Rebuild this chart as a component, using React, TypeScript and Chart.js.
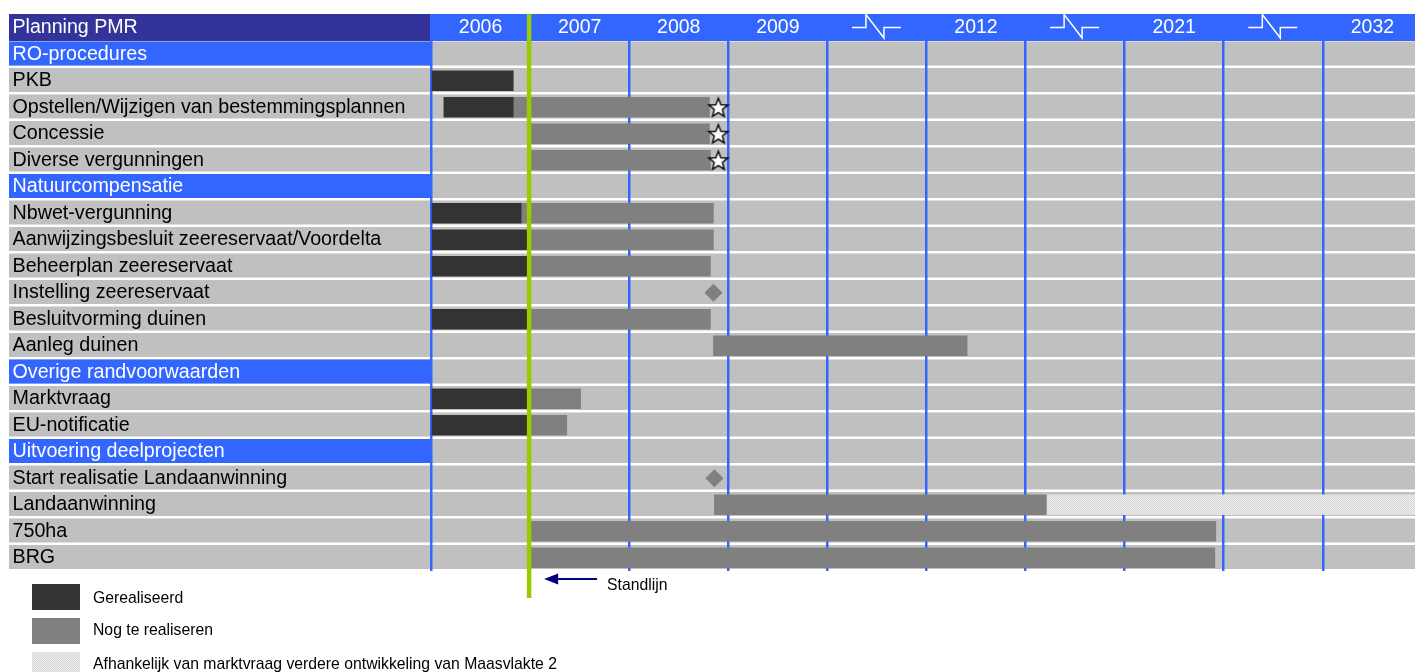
import { useEffect, useRef } from 'react';
import { Chart, registerables } from 'chart.js';

Chart.register(...registerables);

const FONT = "'Liberation Sans', Arial, Helvetica, sans-serif";

// ---------- data ----------
const headerTitle = 'Planning PMR';

const categories = [
  'RO-procedures',
  'PKB',
  'Opstellen/Wijzigen van bestemmingsplannen',
  'Concessie',
  'Diverse vergunningen',
  'Natuurcompensatie',
  'Nbwet-vergunning',
  'Aanwijzingsbesluit zeereservaat/Voordelta',
  'Beheerplan zeereservaat',
  'Instelling zeereservaat',
  'Besluitvorming duinen',
  'Aanleg duinen',
  'Overige randvoorwaarden',
  'Marktvraag',
  'EU-notificatie',
  'Uitvoering deelprojecten',
  'Start realisatie Landaanwinning',
  'Landaanwinning',
  '750ha',
  'BRG',
];

const sectionRows = [
  'RO-procedures',
  'Natuurcompensatie',
  'Overige randvoorwaarden',
  'Uitvoering deelprojecten',
];

// timeline columns (null = axis break)
const columnLabels: (string | null)[] = ['2006', '2007', '2008', '2009', null, '2012', null, '2021', null, '2032'];
const columnEdges = [0, 1, 2, 3, 4, 5, 6, 7, 8, 9];
const xMax = 9.93;
const standlijn = 0.99;

// Gerealiseerd
const realised: ([number, number] | null)[] = [
  null,
  [0.01, 0.83],
  [0.13, 0.83],
  null,
  null,
  null,
  [0.01, 0.91],
  [0.01, 0.97],
  [0.01, 0.97],
  null,
  [0.01, 0.97],
  null,
  null,
  [0.01, 0.97],
  [0.01, 0.97],
  null,
  null,
  null,
  null,
  null,
];

// Nog te realiseren
const remaining: ([number, number] | null)[] = [
  null,
  null,
  [0.83, 2.81],
  [1.0, 2.81],
  [1.0, 2.82],
  null,
  [0.91, 2.85],
  [0.97, 2.85],
  [0.97, 2.82],
  null,
  [0.97, 2.82],
  [2.85, 5.41],
  null,
  [0.97, 1.51],
  [0.97, 1.37],
  null,
  null,
  [2.86, 6.21],
  [1.0, 7.92],
  [1.0, 7.91],
];

// Afhankelijk van marktvraag
const dependent: ([number, number] | null)[] = [
  null, null, null, null, null, null, null, null, null, null,
  null, null, null, null, null, null, null,
  [6.21, 10],
  null,
  null,
];

const starRows = ['Opstellen/Wijzigen van bestemmingsplannen', 'Concessie', 'Diverse vergunningen'];
const starX = [2.9, 2.9, 2.9];

const diamondRows = ['Instelling zeereservaat', 'Start realisatie Landaanwinning'];
const diamondX = [2.85, 2.86];

const legendLabels = [
  'Gerealiseerd',
  'Nog te realiseren',
  'Afhankelijk van marktvraag verdere ontwikkeling van Maasvlakte 2',
];
const standlijnLabel = 'Standlijn';

// ---------- styles ----------
const DARK = '#333333';
const MID = '#808080';
const ROW_GREY = '#C0C0C0';
const BLUE = '#3366FF';
const NAVY_HEAD = '#333399';
const GREEN = '#99CC00';
const ARROW = '#000080';

const CELL_LEFT = 9;
const LABEL_X = 12.5;
const PLOT_LEFT = 431;
const TOP = 14;
const HEADER_H = 27;

function makeHatch(): CanvasPattern | string {
  const c = document.createElement('canvas');
  c.width = 4;
  c.height = 4;
  const g = c.getContext('2d');
  if (!g) return '#E2E2E2';
  g.fillStyle = '#D6D6D6';
  g.fillRect(0, 0, 4, 4);
  g.fillStyle = '#EEEEEE';
  for (let i = 0; i < 4; i++) {
    g.fillRect(i, 3 - i, 1, 1);
    g.fillRect((i + 2) % 4, 3 - i, 1, 1);
  }
  return g.createPattern(c, 'repeat') || '#E2E2E2';
}

function makeStar(): HTMLCanvasElement {
  const s = 24;
  const c = document.createElement('canvas');
  c.width = s;
  c.height = s;
  const g = c.getContext('2d')!;
  const cx = s / 2;
  const cy = s / 2 + 1;
  const R = 10;
  const r = 4.3;
  g.beginPath();
  for (let k = 0; k < 10; k++) {
    const ang = -Math.PI / 2 + (k * Math.PI) / 5;
    const rad = k % 2 === 0 ? R : r;
    const px = cx + rad * Math.cos(ang);
    const py = cy + rad * Math.sin(ang);
    if (k === 0) g.moveTo(px, py);
    else g.lineTo(px, py);
  }
  g.closePath();
  g.fillStyle = '#FFFFFF';
  g.fill();
  g.lineWidth = 1.4;
  g.strokeStyle = '#000000';
  g.stroke();
  return c;
}

export default function App() {
  const ref = useRef<HTMLCanvasElement | null>(null);

  useEffect(() => {
    const canvas = ref.current;
    if (!canvas) return;
    const hatch = makeHatch();
    const star = makeStar();

    const decor = {
      id: 'ganttDecor',
      beforeDraw(chart: any) {
        const { ctx, chartArea: a, width } = chart;
        const n = categories.length;
        const h = (a.bottom - a.top) / n;
        ctx.save();
        // header band
        ctx.fillStyle = NAVY_HEAD;
        ctx.fillRect(CELL_LEFT, TOP, PLOT_LEFT - 1 - CELL_LEFT, a.top - TOP);
        ctx.fillStyle = BLUE;
        ctx.fillRect(PLOT_LEFT - 1, TOP, width - PLOT_LEFT + 1, a.top - TOP);
        // rows
        ctx.fillStyle = '#FFFFFF';
        ctx.fillRect(CELL_LEFT, a.top, width - CELL_LEFT, a.bottom - a.top);
        categories.forEach((c, i) => {
          const top = a.top + h * i;
          ctx.fillStyle = ROW_GREY;
          ctx.fillRect(CELL_LEFT, top + 0.5, width - CELL_LEFT, h - 2.5);
          if (sectionRows.includes(c)) {
            ctx.fillStyle = BLUE;
            ctx.fillRect(CELL_LEFT, top + 0.5, a.left - CELL_LEFT, h - 2.5);
          }
        });
        // title
        ctx.fillStyle = '#FFFFFF';
        ctx.font = `19.6px ${FONT}`;
        ctx.textBaseline = 'middle';
        ctx.textAlign = 'left';
        ctx.fillText(headerTitle, LABEL_X, (TOP + a.top) / 2);
        ctx.restore();
      },
      afterDraw(chart: any) {
        const { ctx, chartArea: a } = chart;
        const xs = chart.scales.x;
        ctx.save();
        // axis break symbols
        ctx.strokeStyle = '#FFFFFF';
        ctx.lineWidth = 1.5;
        const midY = (TOP + a.top) / 2;
        columnLabels.forEach((lab, i) => {
          if (lab !== null) return;
          const cx = xs.getPixelForValue(i + 0.5);
          ctx.beginPath();
          ctx.moveTo(cx - 25, midY);
          ctx.lineTo(cx - 11, midY);
          ctx.lineTo(cx - 11, TOP + 0.5);
          ctx.lineTo(cx + 7, a.top - 3);
          ctx.lineTo(cx + 7, midY);
          ctx.lineTo(cx + 24, midY);
          ctx.stroke();
        });
        // standlijn
        const gx = xs.getPixelForValue(standlijn);
        ctx.fillStyle = GREEN;
        ctx.fillRect(gx - 2.25, TOP, 4.5, a.bottom + 27 - TOP);
        // arrow
        const ay = a.bottom + 8;
        ctx.strokeStyle = ARROW;
        ctx.fillStyle = ARROW;
        ctx.lineWidth = 2;
        ctx.beginPath();
        ctx.moveTo(gx + 26, ay);
        ctx.lineTo(gx + 68, ay);
        ctx.stroke();
        ctx.beginPath();
        ctx.moveTo(gx + 15, ay);
        ctx.lineTo(gx + 29, ay - 5.5);
        ctx.lineTo(gx + 29, ay + 5.5);
        ctx.closePath();
        ctx.fill();
        ctx.fillStyle = '#000000';
        ctx.font = `15.75px ${FONT}`;
        ctx.textBaseline = 'middle';
        ctx.textAlign = 'left';
        ctx.fillText(standlijnLabel, gx + 78, a.bottom + 15);
        // legend
        const fills = [DARK, MID, hatch];
        legendLabels.forEach((lab, i) => {
          const cy = a.bottom + 26 + i * 34;
          ctx.fillStyle = fills[i] as any;
          ctx.fillRect(32, cy - 13, 48, 26);
          ctx.fillStyle = '#000000';
          ctx.fillText(lab, 93, cy + (i === 0 ? 2 : 0));
        });
        ctx.restore();
      },
    };

    const barCommon = {
      grouped: false,
      barThickness: 20,
      borderWidth: 0,
      order: 1,
    };

    const noHPad = (s: any) => {
      s.paddingLeft = 0;
      s.paddingRight = 0;
    };

    const chart = new Chart(canvas, {
      type: 'bar',
      data: {
        labels: categories,
        datasets: [
          {
            type: 'scatter',
            label: 'Mijlpaal',
            data: starRows.map((r, i) => ({ x: starX[i], y: r })),
            pointStyle: star,
            pointRadius: 10,
            order: 0,
          } as any,
          {
            type: 'scatter',
            label: 'Moment',
            data: diamondRows.map((r, i) => ({ x: diamondX[i], y: r })),
            pointStyle: 'rectRot',
            pointRadius: 9,
            backgroundColor: MID,
            borderWidth: 0,
            order: 0,
          } as any,
          { label: legendLabels[0], data: realised as any, backgroundColor: DARK, ...barCommon },
          { label: legendLabels[1], data: remaining as any, backgroundColor: MID, ...barCommon },
          { label: legendLabels[2], data: dependent as any, backgroundColor: hatch as any, ...barCommon },
        ],
      },
      options: {
        indexAxis: 'y',
        responsive: false,
        animation: false,
        layout: { autoPadding: false, padding: { left: LABEL_X, top: TOP, right: 0, bottom: 101 } },
        plugins: { legend: { display: false }, tooltip: { enabled: false } },
        scales: {
          x: {
            type: 'linear',
            position: 'top',
            min: 0,
            max: xMax,
            grid: { display: false, drawTicks: false },
            border: { display: false },
            ticks: {
              color: '#FFFFFF',
              font: { family: FONT, size: 19.5 },
              padding: 2,
              maxRotation: 0,
              minRotation: 0,
              autoSkip: false,
              callback: (_v: any, i: number) => columnLabels[i] ?? '',
            },
            afterBuildTicks: (s: any) => {
              s.ticks = columnLabels.map((_, i) => ({ value: i + 0.5 }));
            },
            afterFit: (s: any) => {
              s.height = HEADER_H;
              noHPad(s);
            },
          },
          xg: {
            type: 'linear',
            position: 'bottom',
            min: 0,
            max: xMax,
            grid: {
              drawTicks: false,
              lineWidth: 2.5,
              color: (c: any) => (c.tick && c.tick.value === 1 ? 'rgba(0,0,0,0)' : BLUE),
            },
            border: { display: false },
            ticks: { display: false },
            afterBuildTicks: (s: any) => {
              s.ticks = columnEdges.map((v) => ({ value: v }));
            },
            afterFit: (s: any) => {
              s.height = 0;
              noHPad(s);
            },
          },
          y: {
            type: 'category',
            grid: { display: false, drawTicks: false },
            border: { display: false },
            ticks: {
              crossAlign: 'far',
              autoSkip: false,
              font: { family: FONT, size: 19.7 },
              color: (c: any) => (sectionRows.includes(c.tick?.label) ? '#FFFFFF' : '#000000'),
            },
            afterFit: (s: any) => {
              s.width = PLOT_LEFT - LABEL_X;
              s.paddingTop = 0;
              s.paddingBottom = 0;
            },
          },
        },
      } as any,
      plugins: [decor],
    });

    return () => chart.destroy();
  }, []);

  return (
    <div style={{ position: 'absolute', left: 0, top: 0, width: 1415, height: 672, background: '#FFFFFF' }}>
      <canvas ref={ref} width={1415} height={672} style={{ display: 'block' }} />
    </div>
  );
}
